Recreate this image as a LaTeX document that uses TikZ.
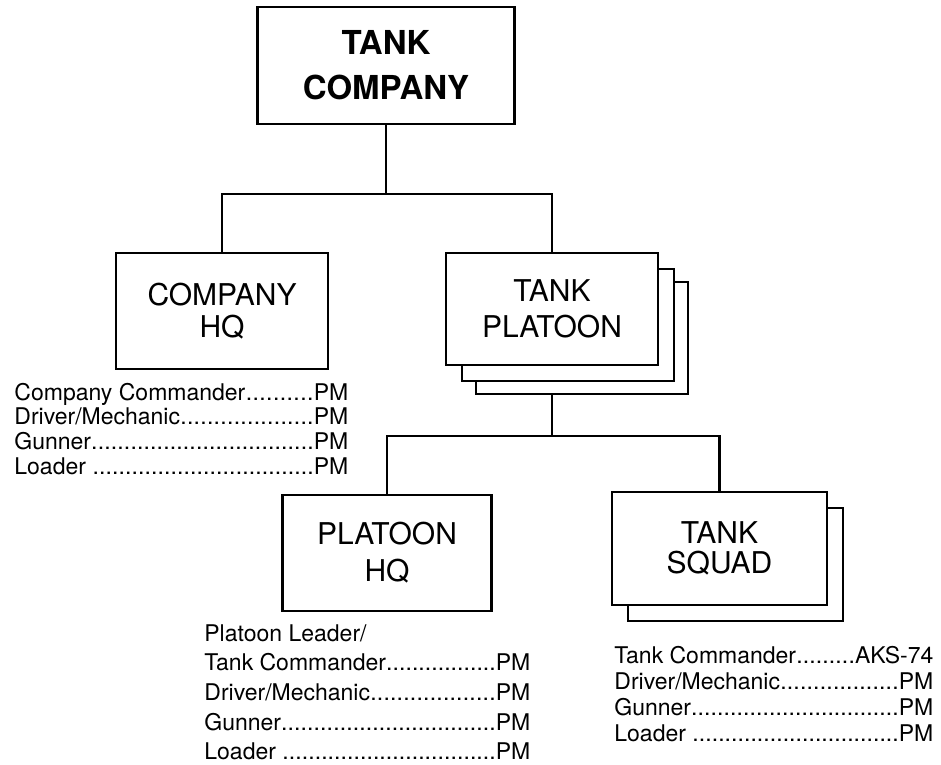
\documentclass[tikz,border=0pt]{standalone}
\usepackage{fontspec}
\setmainfont{TeX Gyre Heros}
\newcommand{\dotline}[3]{\hbox to #1{#2\xleaders\hbox{.}\hfill #3}}
\begin{document}
\begin{tikzpicture}[x=1pt,y=-1pt, line width=2.8pt,
  orgbox/.style={draw, fill=white, inner sep=0pt, align=center, font=\fontsize{30}{34}\selectfont},
  stackbox/.style={draw, fill=white, inner sep=0pt},
  listtxt/.style={anchor=base west, inner sep=0pt, font=\fontsize{23}{25}\selectfont}]
\useasboundingbox (0,0) rectangle (941,764);

% boxes
\node[orgbox, minimum width=257pt, minimum height=117pt, font=\fontsize{33}{45}\selectfont\bfseries] (tc) at (386,65.5) {TANK\\COMPANY};
\node[orgbox, minimum width=212pt, minimum height=116pt, font=\fontsize{30}{32}\selectfont] (chq) at (222,311) {COMPANY\\HQ};

\node[stackbox, minimum width=212pt, minimum height=112pt] (tp3) at (582,338) {};
\node[stackbox, minimum width=212pt, minimum height=112pt] (tp2) at (568,325) {};
\node[orgbox, minimum width=212pt, minimum height=112pt, font=\fontsize{30}{36}\selectfont] (tp) at (552,309) {TANK\\PLATOON};

\node[orgbox, minimum width=209pt, minimum height=116pt, font=\fontsize{30}{37}\selectfont] (phq) at (387,553) {PLATOON\\HQ};

\node[stackbox, minimum width=215pt, minimum height=113pt] (ts2) at (735.5,564.5) {};
\node[orgbox, minimum width=215pt, minimum height=113pt, font=\fontsize{30}{30}\selectfont] (ts) at (719.5,548.5) {TANK\\SQUAD};

% connectors
\coordinate (j1) at (386,194);
\coordinate (j2) at (553,436);
\draw (tc.south) -- (j1);
\draw (chq.north) -- (chq.north |- j1) -- (tp.north |- j1) -- (tp.north);
\draw (tp.south |- tp3.south) -- (tp.south |- j2);
\draw (phq.north) -- (phq.north |- j2) -- (ts.north |- j2) -- (ts.north);

% lists
\node[listtxt] (chqlist) at (13,400) {\vtop{\baselineskip=24.7pt
  \dotline{334pt}{Company Commander}{PM}
  \dotline{334pt}{Driver/Mechanic}{PM}
  \dotline{334pt}{Gunner}{PM}
  \dotline{334pt}{Loader }{PM}}};

\node[listtxt] (phqlist) at (203,641) {\vtop{\baselineskip=29.7pt
  \hbox{Platoon Leader/}
  \dotline{326pt}{Tank Commander}{PM}
  \dotline{326pt}{Driver/Mechanic}{PM}
  \dotline{326pt}{Gunner}{PM}
  \dotline{326pt}{Loader }{PM}}};

\node[listtxt] (tslist) at (613,663) {\vtop{\baselineskip=26pt
  \dotline{319pt}{Tank Commander}{AKS-74}
  \dotline{319pt}{Driver/Mechanic}{PM}
  \dotline{319pt}{Gunner}{PM}
  \dotline{319pt}{Loader }{PM}}};
\end{tikzpicture}
\end{document}
